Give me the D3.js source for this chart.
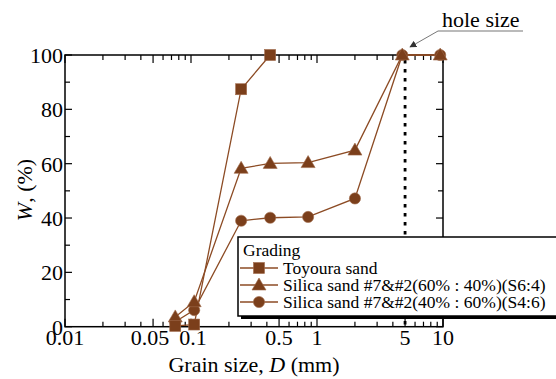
<!DOCTYPE html>
<html><head><meta charset="utf-8">
<script src="https://cdn.jsdelivr.net/npm/d3@7/dist/d3.min.js"></script>
</head><body style="margin:0">
<svg id="c" width="556" height="379"></svg>
<script>
const seriesNames = ["Toyoura sand", "Silica sand #7&#2(60% : 40%)(S6:4)", "Silica sand #7&#2(40% : 60%)(S4:6)"];
const seriesShapes = ["square", "triangle", "circle"];
const toyouraD = [0.075, 0.106, 0.25, 0.425];
const toyouraW = [0.3, 0.8, 87.4, 100];
const s64D = [0.075, 0.106, 0.25, 0.425, 0.85, 2.0, 4.75, 9.5];
const s64W = [3.6, 9.2, 58.3, 60.1, 60.4, 65.0, 100, 100];
const s46D = [0.075, 0.106, 0.25, 0.425, 0.85, 2.0, 4.75, 9.5];
const s46W = [1.8, 6.1, 39.0, 40.1, 40.4, 47.2, 100, 100];
const xTickValues = [0.01, 0.05, 0.1, 0.5, 1, 5, 10];
const xTickLabels = ["0.01", "0.05", "0.1", "0.5", "1", "5", "10"];
const yTickValues = [0, 20, 40, 60, 80, 100];
const holeSize = 5;

const svg = d3.select("#c");
const txt = (sel) => sel.append("text").attr("font-family", "Liberation Serif").style("font-family", '"Liberation Serif"');
const L = 65, R = 443, T = 55, B = 326.7;
const x = d3.scaleLog().domain([0.01, 10]).range([L, R]);
const y = d3.scaleLinear().domain([0, 100]).range([B, T]);
const fill = "#7b3f1b", lineC = "#8c4b24";

// ticks
const minorX = [];
for (let e = -2; e < 1; e++) for (let m = 1; m < 10; m++) minorX.push(m * Math.pow(10, e));
minorX.push(10);
const g = svg.append("g");
minorX.forEach(v => {
  const major = xTickValues.includes(+v.toPrecision(3));
  const len = major ? 8 : 5;
  g.append("line").attr("x1", x(v)).attr("x2", x(v)).attr("y1", B).attr("y2", B - len).attr("stroke", "#000").attr("stroke-width", 1.2);
  g.append("line").attr("x1", x(v)).attr("x2", x(v)).attr("y1", T).attr("y2", T + len).attr("stroke", "#000").attr("stroke-width", 1.2);
});
d3.range(0, 101, 10).forEach(v => {
  const len = v % 20 === 0 ? 7 : 5;
  g.append("line").attr("x1", L).attr("x2", L + len).attr("y1", y(v)).attr("y2", y(v)).attr("stroke", "#000").attr("stroke-width", 1.2);
  g.append("line").attr("x1", R).attr("x2", R - len).attr("y1", y(v)).attr("y2", y(v)).attr("stroke", "#000").attr("stroke-width", 1.2);
});
g.append("rect").attr("x", L).attr("y", T).attr("width", R - L).attr("height", B - T).attr("fill", "none").attr("stroke", "#000").attr("stroke-width", 1.5);

// tick labels
xTickValues.forEach((v, i) => {
  txt(svg).attr("x", x(v) + (v === 0.05 ? -3 : v === 0.1 ? 2 : 0)).attr("y", B + 18).attr("text-anchor", "middle").attr("font-size", 22).text(xTickLabels[i]);
});
yTickValues.forEach(v => {
  txt(svg).attr("x", L - 2).attr("y", y(v) + 8).attr("text-anchor", "end").attr("font-size", 22).text(v);
});

// axis titles
const xt = txt(svg).attr("x", 254).attr("y", 372).attr("text-anchor", "middle").attr("font-size", 22);
xt.append("tspan").text("Grain size, ");
xt.append("tspan").attr("font-style", "italic").text("D");
xt.append("tspan").text(" (mm)");
const yt = txt(svg).attr("transform", "translate(32,190) rotate(-90)").attr("text-anchor", "middle").attr("font-size", 22);
yt.append("tspan").attr("font-style", "italic").text("W");
yt.append("tspan").text(", (%)");

// hole size dotted line
svg.append("line").attr("x1", x(holeSize)).attr("x2", x(holeSize)).attr("y1", y(100) + 5).attr("y2", B)
  .attr("stroke", "#000").attr("stroke-width", 2.8).attr("stroke-dasharray", "3.5,5.5");

// series
const series = [
  {D: toyouraD, W: toyouraW},
  {D: s64D, W: s64W},
  {D: s46D, W: s46W}
];
const line = d3.line().x(d => x(d[0])).y(d => y(d[1]));
function drawMarker(sel, shape, cx, cy) {
  if (shape === "square") sel.append("rect").attr("x", cx - 5.5).attr("y", cy - 5.5).attr("width", 11).attr("height", 11).attr("fill", fill).attr("stroke", "#a0694a").attr("stroke-width", 0.6);
  else if (shape === "triangle") sel.append("path").attr("d", `M${cx},${cy - 7}L${cx + 7},${cy + 5}L${cx - 7},${cy + 5}Z`).attr("fill", fill).attr("stroke", "#a0694a").attr("stroke-width", 0.6);
  else sel.append("circle").attr("cx", cx).attr("cy", cy).attr("r", 5.6).attr("fill", fill).attr("stroke", "#a0694a").attr("stroke-width", 0.6);
}
series.forEach((s, i) => {
  const pts = s.D.map((d, j) => [d, s.W[j]]);
  svg.append("path").attr("d", line(pts)).attr("fill", "none").attr("stroke", lineC).attr("stroke-width", 1.3);
});
[2, 1, 0].forEach(i => {
  const s = series[i];
  const gg = svg.append("g");
  s.D.forEach((d, j) => drawMarker(gg, seriesShapes[i], x(d), y(s.W[j])));
});

// annotation
txt(svg).attr("x", 442).attr("y", 27).attr("font-size", 22).text("hole size");
svg.append("line").attr("x1", 438).attr("x2", 523).attr("y1", 31).attr("y2", 31).attr("stroke", "#777").attr("stroke-width", 1.2);
svg.append("defs").append("marker").attr("id", "ah").attr("viewBox", "0 0 10 10").attr("refX", 9).attr("refY", 5)
  .attr("markerWidth", 7).attr("markerHeight", 7).attr("orient", "auto")
  .append("path").attr("d", "M0,0L10,5L0,10Z").attr("fill", "#333");
svg.append("line").attr("x1", 438).attr("y1", 31).attr("x2", 410).attr("y2", 47).attr("stroke", "#777").attr("stroke-width", 1).attr("marker-end", "url(#ah)");

// legend
const lx = 238, ly = 237, lw = 330, lh = 79;
svg.append("rect").attr("x", lx + 3).attr("y", ly + 3).attr("width", lw).attr("height", lh).attr("fill", "#000");
svg.append("rect").attr("x", lx).attr("y", ly).attr("width", lw).attr("height", lh).attr("fill", "#fff").attr("stroke", "#000").attr("stroke-width", 1.5);
txt(svg).attr("x", 243).attr("y", 256).attr("font-size", 17.5).text("Grading");
seriesNames.forEach((n, i) => {
  const yy = 268 + i * 17;
  svg.append("line").attr("x1", 240).attr("x2", 278).attr("y1", yy).attr("y2", yy).attr("stroke", lineC).attr("stroke-width", 1.3);
  drawMarker(svg, seriesShapes[i], 259, yy);
  txt(svg).attr("x", 283).attr("y", yy + 6).attr("font-size", 17.5).text(n);
});
</script>
</body></html>
